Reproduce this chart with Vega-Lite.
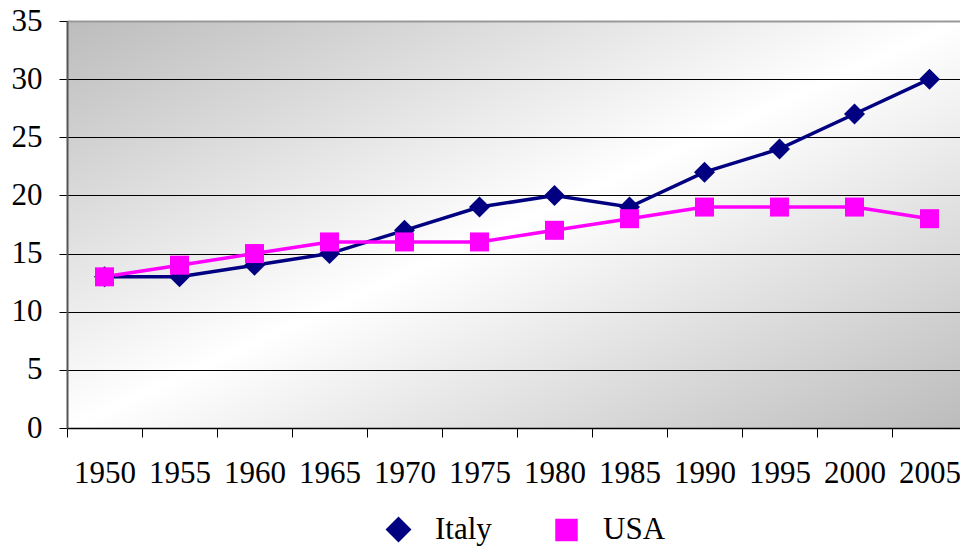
{
  "$schema": "https://vega.github.io/schema/vega-lite/v6.json",
  "width": 893,
  "height": 407,
  "autosize": {"type": "none"},
  "padding": {"left": 67, "top": 21, "right": 0, "bottom": 119},
  "background": "white",
  "config": {
    "font": "Liberation Serif",
    "axis": {"labelFont": "Liberation Serif"},
    "legend": {"labelFont": "Liberation Serif"},
    "view": {
      "stroke": null,
      "fill": {
        "gradient": "linear",
        "x1": 0, "y1": 0, "x2": 1, "y2": 1,
        "stops": [
          {"offset": 0, "color": "#bcbcbc"},
          {"offset": 0.5, "color": "#ffffff"},
          {"offset": 1, "color": "#bcbcbc"}
        ]
      }
    }
  },
  "data": {
    "values": [
      {"year": "1950", "series": "Italy", "value": 13},
      {"year": "1955", "series": "Italy", "value": 13},
      {"year": "1960", "series": "Italy", "value": 14},
      {"year": "1965", "series": "Italy", "value": 15},
      {"year": "1970", "series": "Italy", "value": 17},
      {"year": "1975", "series": "Italy", "value": 19},
      {"year": "1980", "series": "Italy", "value": 20},
      {"year": "1985", "series": "Italy", "value": 19},
      {"year": "1990", "series": "Italy", "value": 22},
      {"year": "1995", "series": "Italy", "value": 24},
      {"year": "2000", "series": "Italy", "value": 27},
      {"year": "2005", "series": "Italy", "value": 30},
      {"year": "1950", "series": "USA", "value": 13},
      {"year": "1955", "series": "USA", "value": 14},
      {"year": "1960", "series": "USA", "value": 15},
      {"year": "1965", "series": "USA", "value": 16},
      {"year": "1970", "series": "USA", "value": 16},
      {"year": "1975", "series": "USA", "value": 16},
      {"year": "1980", "series": "USA", "value": 17},
      {"year": "1985", "series": "USA", "value": 18},
      {"year": "1990", "series": "USA", "value": 19},
      {"year": "1995", "series": "USA", "value": 19},
      {"year": "2000", "series": "USA", "value": 19},
      {"year": "2005", "series": "USA", "value": 18}
    ]
  },
  "encoding": {
    "x": {
      "field": "year",
      "type": "ordinal",
      "scale": {"type": "band", "range": [0, 900], "paddingInner": 0, "paddingOuter": 0},
      "axis": {
        "title": null,
        "labelAngle": 0,
        "labelFontSize": 31,
        "labelColor": "black",
        "labelPadding": 21,
        "tickBand": "extent",
        "tickSize": 9,
        "tickColor": "black",
        "tickWidth": 1,
        "domainColor": "black",
        "domainWidth": 1.5,
        "grid": false
      }
    },
    "y": {
      "field": "value",
      "type": "quantitative",
      "scale": {"domain": [0, 35], "nice": false, "zero": true},
      "axis": {
        "title": null,
        "values": [0, 5, 10, 15, 20, 25, 30, 35],
        "labelFontSize": 31,
        "labelColor": "black",
        "labelPadding": 17,
        "tickSize": 8,
        "tickColor": "black",
        "tickWidth": 1,
        "domainColor": "#555555",
        "domainWidth": 2,
        "grid": true,
        "gridColor": {"condition": {"test": "datum.value === 35", "value": "#999999"}, "value": "black"},
        "gridWidth": {"condition": {"test": "datum.value === 35", "value": 2}, "value": 1},
        "gridOpacity": 1
      }
    },
    "color": {
      "field": "series",
      "type": "nominal",
      "scale": {"domain": ["Italy", "USA"], "range": ["#000080", "#ff00ff"]},
      "legend": {
        "title": null,
        "orient": "none",
        "direction": "horizontal",
        "legendX": 316,
        "legendY": 493,
        "padding": 0,
        "symbolSize": 3600,
        "labelFontSize": 31,
        "labelColor": "black",
        "labelOffset": 21,
        "columnPadding": 58,
        "symbolStrokeWidth": 3.5,
        "encode": {
          "symbols": {
            "update": {
              "shape": {"signal": "datum.value === 'Italy' ? 'M-1,0L1,0M0,-0.32L0.32,0L0,0.32L-0.32,0Z' : 'M-1,0L1,0M-0.32,-0.32L0.32,-0.32L0.32,0.32L-0.32,0.32Z'"},
              "fill": {"signal": "datum.value === 'Italy' ? '#000080' : '#ff00ff'"},
              "stroke": {"scale": "color", "field": "value"},
              "strokeWidth": {"signal": "3.5"},
              "opacity": {"value": 1},
              "fillOpacity": {"value": 1},
              "strokeOpacity": {"signal": "1"}
            }
          }
        }
      }
    }
  },
  "layer": [
    {
      "mark": {"type": "line", "strokeWidth": 3.5},
      "encoding": {}
    },
    {
      "mark": {"type": "point", "filled": true, "opacity": 1},
      "encoding": {
        "shape": {
          "field": "series",
          "type": "nominal",
          "scale": {"domain": ["Italy", "USA"], "range": ["diamond", "square"]},
          "legend": null
        },
        "size": {
          "field": "series",
          "type": "nominal",
          "scale": {"domain": ["Italy", "USA"], "range": [441, 361]},
          "legend": null
        }
      }
    }
  ]
}
